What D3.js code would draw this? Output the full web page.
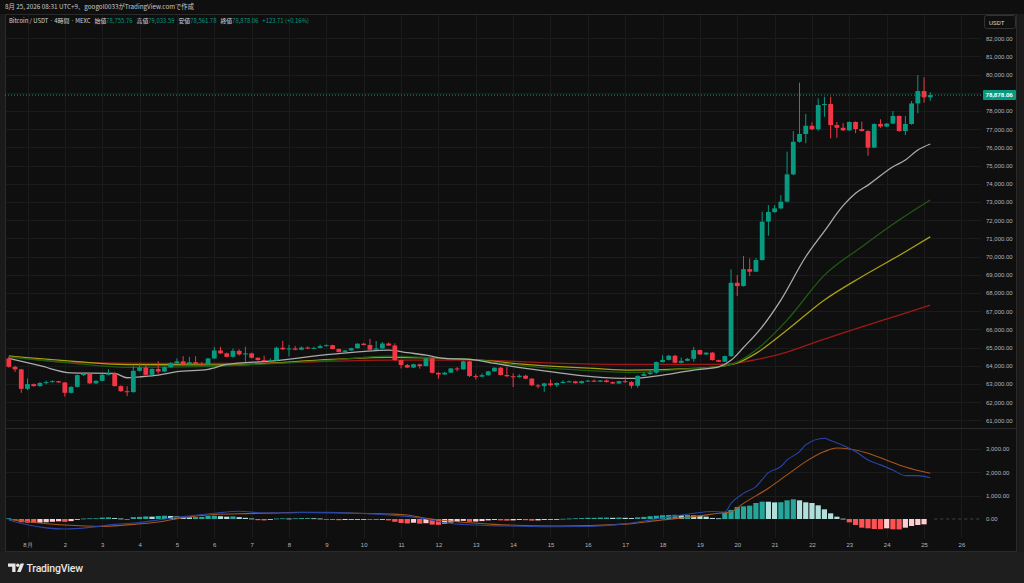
<!DOCTYPE html>
<html>
<head>
<meta charset="utf-8">
<script src="https://cdn.jsdelivr.net/npm/d3@7"></script>
<style>
  body { margin: 0; background: #0f0f0f; overflow: hidden; }
  svg { display: block; font-family: Roboto, "Noto Sans CJK JP", sans-serif; }
  .axis text { fill: #b2b5be; font-size: 6px; }
  .axis path, .axis line { display: none; }
</style>
</head>
<body>
<svg id="chart" width="1024" height="583"></svg>
<script>
// 4h candles, index 0 = 8/1 first bar, data starts 3 bars earlier
const firstIndex = -3;

const opens = [64400,63940,63800,62730,62990,62880,63050,63100,63150,63080,62510,62840,63485,63560,63030,63170,63500,63580,62880,62600,62550,63720,63900,63500,63820,63680,63920,64140,64240,64070,64190,64100,64070,64400,64840,64680,64490,64820,64620,64680,64440,64310,64260,64300,64990,64900,64950,64880,65000,64940,64980,65080,65130,64920,64760,64840,64960,65210,65140,64880,64950,65220,65110,64310,64040,63900,64080,63980,64400,63610,63520,63620,63850,63800,64240,63430,63400,63480,63690,63890,63490,63420,63380,63450,63290,62920,62880,63030,62930,63050,63110,63140,63040,63150,63180,63120,63190,63100,63020,63150,63100,62900,63440,63540,63620,64200,64320,64550,64160,64270,64380,64860,64620,64720,64310,64220,64530,68560,68380,69310,69170,69810,71920,72450,72650,73020,74520,76310,76740,77190,77000,78330,78390,77230,77080,76940,77400,77010,76900,75990,77290,77150,77310,77730,76900,77290,78420,79100,78755.76];
const highs = [64480,64000,63830,63300,63020,63100,63180,63200,63170,63100,62870,63520,63620,63600,63200,63560,63810,63620,62920,62880,63980,64130,64080,63860,64250,63960,64200,64400,64530,64490,64520,64200,64430,65040,65040,64720,64950,64900,65040,64720,64460,64550,64400,65050,65370,65150,65080,65060,65060,65040,65160,65170,65150,64950,64870,64990,65240,65260,65480,65360,65300,65280,65230,64330,64100,64110,64110,64430,64440,63640,63660,63880,63920,64280,64280,63540,63580,63720,63910,63940,63940,63580,63530,63500,63320,62990,63060,63250,63080,63200,63180,63170,63180,63220,63240,63220,63240,63130,63180,63400,63150,63470,63650,63780,64230,64580,64600,64600,64450,64430,65040,64880,64740,64760,64330,64560,69300,68990,70030,69900,69920,72470,72830,72830,73380,75770,76900,79560,77840,77380,78700,78790,78790,77400,77340,77430,77430,77420,76940,77320,77550,77340,78000,77760,77730,78550,79980,79860,79033.59];
const lows = [63900,63660,62510,62660,62850,62850,62980,63080,63060,62300,62480,62800,63440,63000,62990,63150,63470,62860,62560,62330,62520,63680,63480,63480,63560,63650,63900,64100,64040,64040,64060,64020,64050,64380,64650,64460,64460,64560,64220,64400,64290,64230,64210,64260,64860,64510,64850,64850,64920,64920,64950,65060,64900,64730,64740,64820,64940,65120,64860,64860,64930,65090,64280,63850,63870,63870,63840,63960,63580,63280,63490,63600,63690,63780,63380,63240,63370,63440,63660,63460,63390,62830,63350,63260,62890,62760,62560,62870,62830,63020,63090,63020,63020,63130,63100,63100,63080,63000,63000,63050,62750,62790,63420,63500,63550,64180,64290,64130,64120,64250,64220,64600,64600,64290,64200,64200,64480,67830,68350,68930,69150,69780,71150,72400,72600,72980,74480,76260,76230,76950,76920,77690,76500,76530,76900,76900,76780,76870,75540,75960,77080,77120,77280,76870,76680,77250,77880,78460,78561.78];
const closes = [63940,63800,62730,62990,62880,63050,63100,63150,63080,62510,62840,63485,63560,63030,63170,63500,63580,62880,62600,62550,63720,63900,63500,63820,63680,63920,64140,64240,64070,64190,64100,64070,64400,64840,64680,64490,64820,64620,64680,64440,64310,64260,64300,64990,64900,64950,64880,65000,64940,64980,65080,65130,64920,64760,64840,64960,65210,65140,64880,64950,65220,65110,64310,64040,63900,64080,63980,64400,63610,63520,63620,63850,63800,64240,63430,63400,63480,63690,63890,63490,63420,63380,63450,63290,62920,62880,63030,62930,63050,63110,63140,63040,63150,63180,63120,63190,63100,63020,63150,63100,62900,63440,63540,63620,64200,64320,64550,64160,64270,64380,64860,64620,64720,64310,64220,64530,68560,68380,69310,69170,69810,71920,72450,72650,73020,74520,76310,76740,77190,77000,78330,78390,77230,77080,76940,77400,77010,76900,75990,77290,77150,77310,77730,76900,77290,78420,79100,78755.76,78878.06];

// moving averages: [bar index, value]
const maFast = [[-3,64400],[2,64000],[7,63610],[14,63580],[16,63340],[18,63390],[21,63485],[24,63670],[29,63800],[32,64070],[39,64255],[49,64640],[56,64830],[58,64860],[61,64720],[64,64585],[67,64400],[71,64350],[75,64130],[80,63850],[86,63580],[91,63390],[97,63300],[102,63485],[107,63760],[111,63940],[113,64300],[115,65000],[118,66140],[121,67610],[125,69990],[128,71400],[131,72800],[133,73480],[135,73930],[139,74940],[141,75310],[143,75860],[145,76190]];
const maMid = [[-3,64480],[7,64150],[16,63910],[28,63950],[32,64000],[49,64310],[58,64530],[67,64400],[71,64350],[80,63980],[91,63720],[97,63630],[105,63800],[111,63945],[114,64200],[117,64860],[122,66510],[128,68980],[134,70540],[140,72010],[145,73110]];
const maSlow = [[-3,64520],[7,64250],[16,64060],[28,64050],[32,64040],[49,64345],[58,64460],[71,64350],[80,64070],[91,63850],[97,63760],[107,63850],[111,63945],[114,64150],[117,64680],[122,65960],[128,67610],[134,68890],[141,70265],[145,71090]];
const maLong = [[-3,64560],[7,64180],[22,64130],[34,64130],[58,64310],[71,64310],[86,64130],[97,64070],[111,64070],[114,64150],[117,64330],[122,64750],[127,65350],[134,66140],[140,66785],[145,67335]];

// MACD pane
const macdLine = [[-3,-40],[0,-250],[3,-380],[6,-430],[10,-360],[14,-230],[18,-150],[21,-40],[25,100],[30,245],[34,330],[38,260],[42,270],[48,285],[53,245],[58,170],[62,80],[64,0],[67,-160],[72,-260],[77,-300],[84,-330],[90,-320],[96,-200],[102,40],[107,245],[110,320],[112,300],[113,670],[115,1100],[117,1390],[119,1990],[121,2250],[122,2530],[124,2890],[125,3180],[128,3460],[129,3360],[131,3150],[133,2890],[135,2530],[137,2320],[139,2100],[141,1860],[143,1860],[145,1770]];
const signalLine = [[-3,-20],[2,-170],[6,-260],[12,-320],[16,-250],[21,-130],[25,60],[30,190],[35,230],[39,250],[44,285],[49,270],[53,245],[58,215],[61,170],[64,30],[69,-120],[75,-230],[85,-300],[96,-220],[101,-70],[107,100],[111,245],[113,315],[115,670],[119,1320],[122,1890],[125,2460],[128,2890],[130,3040],[132,3000],[135,2820],[138,2520],[141,2230],[145,1960]];
const histogram = [30,-30,-140,-160,-170,-160,-140,-120,-100,-120,-90,-20,20,30,30,60,70,40,20,-10,80,90,110,100,130,140,130,110,90,70,80,90,130,140,120,100,110,80,50,20,-50,-60,-30,20,30,20,30,40,40,30,20,-20,-40,-50,-40,-30,-20,-10,-30,-40,-30,-60,-120,-170,-190,-160,-200,-180,-240,-250,-200,-150,-120,-80,-120,-110,-90,-60,-40,-60,-70,-60,-40,-50,-70,-60,-40,-30,-20,10,20,30,40,50,50,60,60,50,60,50,40,70,90,120,140,160,170,180,160,170,150,140,100,45,30,286,386,515,543,572,686,744,740,712,720,800,844,800,715,686,586,415,243,100,15,-143,-257,-372,-400,-429,-435,-400,-443,-446,-372,-300,-257,-229];

const dayLabels = ["8月","2","3","4","5","6","7","8","9","10","11","12","13","14","15","16","17","18","19","20","21","22","23","24","25","26"];
const priceTicks = d3.range(61000, 82001, 1000);
const macdTicks = [0, 1000, 2000, 3000];

const lastPrice = 78878.06;
const headerText = "8月 25, 2026 08:31 UTC+9、googol0033がTradingView.comで作成";
const ohlcText = [["始値","78,755.76"],["高値","79,033.59"],["安値","78,561.78"],["終値","78,878.06"]];
const changeText = "+123.71 (+0.16%)";

const UP = "#089981", DOWN = "#f23645";

const svg = d3.select("#chart");
const W = 1024, H = 583;
const padL = 5, plotR = 981, frameR = 1017, frameT = 14, paneSplit = 428, paneBottom = 538, frameB = 552;

const x = d3.scaleLinear().domain([0, 150]).range([27.5, 961.4]);
const yPrice = d3.scaleLinear().domain([61000, 82000]).range([420.3, 38.3]);
const yMacd = d3.scaleLinear().domain([0, 3000]).range([519, 449]);

svg.append("rect").attr("width", W).attr("height", H).attr("fill", "#0f0f0f");
svg.append("rect").attr("x", 0).attr("y", frameB).attr("width", W).attr("height", H - frameB).attr("fill", "#1e1e1e");
svg.append("rect").attr("x", 0).attr("y", frameT).attr("width", padL).attr("height", frameB - frameT).attr("fill", "#1a1a1a");
svg.append("rect").attr("x", frameR).attr("y", frameT).attr("width", W - frameR).attr("height", frameB - frameT).attr("fill", "#1a1a1a");

const defs = svg.append("defs");
defs.append("clipPath").attr("id", "clipPrice").append("rect")
  .attr("x", padL).attr("y", frameT).attr("width", plotR - padL).attr("height", paneSplit - frameT);
defs.append("clipPath").attr("id", "clipMacd").append("rect")
  .attr("x", padL).attr("y", paneSplit).attr("width", plotR - padL).attr("height", paneBottom - paneSplit);

// grid
const grid = svg.append("g").attr("stroke", "#1b1b1b").attr("stroke-width", 1);
grid.selectAll("line.v").data(dayLabels).join("line")
  .attr("x1", (d, i) => Math.round(x(i * 6)) + 0.5).attr("x2", (d, i) => Math.round(x(i * 6)) + 0.5)
  .attr("y1", frameT).attr("y2", paneBottom);
grid.selectAll("line.hp").data(priceTicks).join("line")
  .attr("x1", padL).attr("x2", plotR)
  .attr("y1", (d) => Math.round(yPrice(d)) + 0.5).attr("y2", (d) => Math.round(yPrice(d)) + 0.5);
grid.selectAll("line.hm").data(macdTicks.slice(1)).join("line")
  .attr("x1", padL).attr("x2", plotR)
  .attr("y1", (d) => Math.round(yMacd(d)) + 0.5).attr("y2", (d) => Math.round(yMacd(d)) + 0.5);

// frame + pane separator
svg.append("rect").attr("x", padL + 0.5).attr("y", frameT + 0.5)
  .attr("width", frameR - padL - 1).attr("height", frameB - frameT - 1)
  .attr("fill", "none").attr("stroke", "#2a2a2a");
svg.append("line").attr("x1", padL).attr("x2", frameR)
  .attr("y1", paneSplit + 0.5).attr("y2", paneSplit + 0.5).attr("stroke", "#2a2a2a");

// moving averages
const pricePane = svg.append("g").attr("clip-path", "url(#clipPrice)");
const maLine = d3.line().x((d) => x(d[0])).y((d) => yPrice(d[1])).curve(d3.curveMonotoneX);
[[maLong, "#a01818"], [maSlow, "#a9a012"], [maMid, "#1f5c13"], [maFast, "#ababab"]].forEach(([data, color]) => {
  pricePane.append("path").attr("d", maLine(data)).attr("fill", "none")
    .attr("stroke", color).attr("stroke-width", 1.3);
});

// candles
const candles = closes.map((c, k) => ({ i: k + firstIndex, o: opens[k], h: highs[k], l: lows[k], c }));
const cg = pricePane.append("g");
const candle = cg.selectAll("g").data(candles).join("g")
  .attr("fill", (d) => (d.c >= d.o ? UP : DOWN))
  .attr("stroke", (d) => (d.c >= d.o ? UP : DOWN));
candle.append("line")
  .attr("x1", (d) => x(d.i)).attr("x2", (d) => x(d.i))
  .attr("y1", (d) => yPrice(d.h)).attr("y2", (d) => yPrice(d.l)).attr("stroke-width", 1);
candle.append("rect")
  .attr("x", (d) => x(d.i) - 2.4).attr("width", 4.8)
  .attr("y", (d) => yPrice(Math.max(d.o, d.c)))
  .attr("height", (d) => Math.max(1, Math.abs(yPrice(d.o) - yPrice(d.c))))
  .attr("stroke", "none");

// last price line
svg.append("line").attr("x1", padL).attr("x2", plotR + 2)
  .attr("y1", yPrice(lastPrice)).attr("y2", yPrice(lastPrice))
  .attr("stroke", UP).attr("stroke-dasharray", "1,2").attr("stroke-width", 1);

// MACD pane
const macdPane = svg.append("g").attr("clip-path", "url(#clipMacd)");
macdPane.append("line").attr("x1", x(145) + 4).attr("x2", plotR)
  .attr("y1", yMacd(0)).attr("y2", yMacd(0))
  .attr("stroke", "#444").attr("stroke-dasharray", "3,3");
macdPane.selectAll("rect.h").data(histogram).join("rect")
  .attr("x", (d, k) => x(k + firstIndex) - 2.6).attr("width", 5.2)
  .attr("y", (d) => Math.min(yMacd(d), yMacd(0)))
  .attr("height", (d) => Math.max(0.8, Math.abs(yMacd(d) - yMacd(0))))
  .attr("fill", (d, k) => {
    const prev = k > 0 ? histogram[k - 1] : d;
    if (d >= 0) return d >= prev ? "#26a69a" : "#b2dfdb";
    return d <= prev ? "#ff5252" : "#ffcdd2";
  });
const macdPath = d3.line().x((d) => x(d[0])).y((d) => yMacd(d[1])).curve(d3.curveMonotoneX);
macdPane.append("path").attr("d", macdPath(signalLine)).attr("fill", "none")
  .attr("stroke", "#a8561c").attr("stroke-width", 1.1);
macdPane.append("path").attr("d", macdPath(macdLine)).attr("fill", "none")
  .attr("stroke", "#2845a6").attr("stroke-width", 1.1);

// axes
svg.append("g").attr("class", "axis").attr("transform", "translate(986,0)")
  .call(d3.axisRight(yPrice).tickValues(priceTicks).tickFormat(d3.format(",.2f")).tickSize(0).tickPadding(0));
svg.append("g").attr("class", "axis").attr("transform", "translate(986,0)")
  .call(d3.axisRight(yMacd).tickValues(macdTicks).tickFormat(d3.format(",.2f")).tickSize(0).tickPadding(0));
svg.append("g").attr("class", "axis").attr("transform", `translate(0,${paneBottom + 2})`)
  .call(d3.axisBottom(x).tickValues(dayLabels.map((d, i) => i * 6)).tickFormat((d, i) => dayLabels[i]).tickSize(0).tickPadding(3));
svg.selectAll(".axis text").attr("fill", "#b2b5be");

// price label + currency box
const lp = yPrice(lastPrice);
svg.append("rect").attr("x", 983).attr("y", lp - 5).attr("width", 33).attr("height", 10).attr("rx", 1).attr("fill", UP);
svg.append("text").attr("x", 985.5).attr("y", lp + 2.2).attr("fill", "#ffffff")
  .attr("font-size", 6).attr("font-weight", 700).text(d3.format(",.2f")(lastPrice));
svg.append("rect").attr("x", 984.5).attr("y", 15.5).attr("width", 31).attr("height", 13).attr("rx", 2)
  .attr("fill", "#0f0f0f").attr("stroke", "#333");
svg.append("text").attr("x", 989).attr("y", 24.5).attr("fill", "#d1d4dc").attr("font-size", 6.2).text("USDT");

// header texts
svg.append("text").attr("x", 5).attr("y", 9).attr("fill", "#c8c8c8")
  .attr("font-family", "'Noto Sans CJK JP', sans-serif").attr("font-size", 6.3).text(headerText);
const title = svg.append("text").attr("x", 9).attr("y", 23)
  .attr("font-family", "'Noto Sans CJK JP', sans-serif").attr("font-size", 5.9).attr("fill", "#d1d4dc");
title.append("tspan").text("Bitcoin / USDT · 4時間 · MEXC");
ohlcText.forEach(([label, value]) => {
  title.append("tspan").attr("dx", 4).attr("fill", "#d1d4dc").text(label);
  title.append("tspan").attr("fill", UP).text(value);
});
title.append("tspan").attr("dx", 4).attr("fill", UP).text(changeText);

// TradingView logo
const logo = svg.append("g").attr("fill", "#e6e6e6");
logo.append("path").attr("d", "M8,563.5 h7.5 v8.5 h-3.3 v-5.3 h-4.2 z");
logo.append("circle").attr("cx", 17.8).attr("cy", 565.3).attr("r", 1.7);
logo.append("path").attr("d", "M20.5,563.5 h3.6 l-3.4,8.5 h-3.6 z");
logo.append("text").attr("x", 26.5).attr("y", 572).attr("font-size", 10.5)
  .attr("font-weight", 500).attr("letter-spacing", -0.2).text("TradingView");
</script>
</body>
</html>
